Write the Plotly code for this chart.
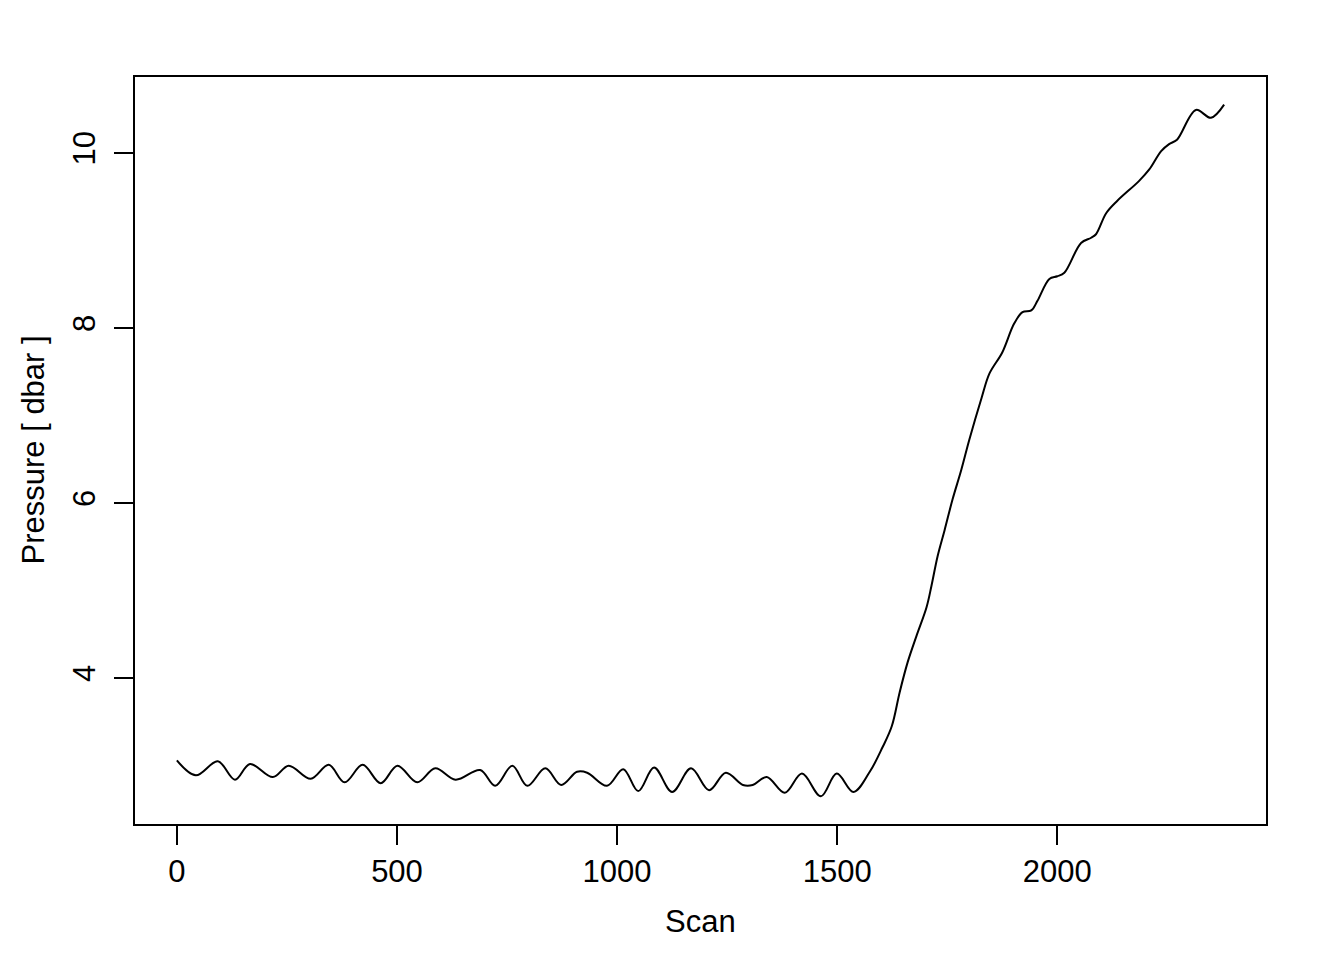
import plotly.graph_objects as go

scan = [0, 43, 93, 132, 166, 218, 254, 304, 345, 381, 422, 463, 501, 546, 587, 633,
        689, 723, 762, 796, 837, 873, 909, 932, 977, 1014, 1048, 1084, 1125, 1168,
        1209, 1247, 1286, 1308, 1340, 1381, 1420, 1463, 1499, 1537, 1574, 1603, 1624,
        1642, 1660, 1680, 1703, 1714, 1728, 1744, 1762, 1782, 1800, 1828, 1846, 1875,
        1902, 1921, 1941, 1955, 1982, 2000, 2016, 2054, 2077, 2088, 2111, 2136, 2186,
        2209, 2236, 2254, 2272, 2315, 2349, 2379]
pressure = [3.06, 2.89, 3.05, 2.84, 3.02, 2.87, 3.00, 2.85, 3.01, 2.81, 3.01, 2.80,
            3.00, 2.81, 2.97, 2.84, 2.95, 2.77, 3.00, 2.77, 2.97, 2.78, 2.93, 2.92,
            2.77, 2.96, 2.71, 2.98, 2.70, 2.97, 2.72, 2.92, 2.78, 2.78, 2.87, 2.69,
            2.91, 2.65, 2.91, 2.70, 2.93, 3.21, 3.45, 3.84, 4.18, 4.48, 4.81, 5.05,
            5.39, 5.69, 6.04, 6.38, 6.72, 7.20, 7.48, 7.72, 8.05, 8.18, 8.20, 8.31,
            8.56, 8.59, 8.63, 8.97, 9.03, 9.07, 9.31, 9.45, 9.68, 9.81, 10.02, 10.10,
            10.15, 10.49, 10.40, 10.55]

x_ticks = [0, 500, 1000, 1500, 2000]
y_ticks = [4, 6, 8, 10]
x_title = "Scan"
y_title = "Pressure [ dbar ]"

FONT = "Liberation Sans, Arial, Helvetica, sans-serif"

fig = go.Figure()
fig.add_trace(go.Scatter(x=scan, y=pressure, mode="lines",
                         line=dict(color="black", width=2, shape="spline", smoothing=1),
                         hoverinfo="skip", showlegend=False))

xmin, xmax = min(scan), max(scan)
ymin, ymax = min(pressure), max(pressure)
xpad = (xmax - xmin) * 0.04
ypad = (ymax - ymin) * 0.04

axis_common = dict(showgrid=False, zeroline=False, showline=True, mirror=True,
                   linecolor="black", linewidth=2, ticks="outside", ticklen=19,
                   tickwidth=2, tickcolor="black",
                   tickfont=dict(family=FONT, size=31, color="black"))

fig.update_xaxes(range=[xmin - xpad, xmax + xpad], tickvals=x_ticks,
                 ticktext=[str(v) for v in x_ticks], ticklabelstandoff=0, **axis_common)
fig.update_yaxes(range=[ymin - ypad, ymax + ypad], tickvals=y_ticks,
                 ticktext=[str(v) for v in y_ticks], tickangle=-90,
                 ticklabelstandoff=7, **axis_common)

fig.update_layout(
    width=1344, height=960,
    margin=dict(l=127, r=86, t=69, b=144),
    paper_bgcolor="white", plot_bgcolor="white",
    font=dict(family=FONT, size=31, color="black"),
    annotations=[
        dict(text=x_title, xref="paper", yref="paper", x=0.5, y=0, yanchor="middle",
             xanchor="center", yshift=-97, showarrow=False,
             font=dict(family=FONT, size=31, color="black")),
        dict(text=y_title, xref="paper", yref="paper", x=0, y=0.5, xanchor="center",
             yanchor="middle", xshift=-102, textangle=-90, showarrow=False,
             font=dict(family=FONT, size=31, color="black")),
    ],
)

fig.write_html("out.html")
